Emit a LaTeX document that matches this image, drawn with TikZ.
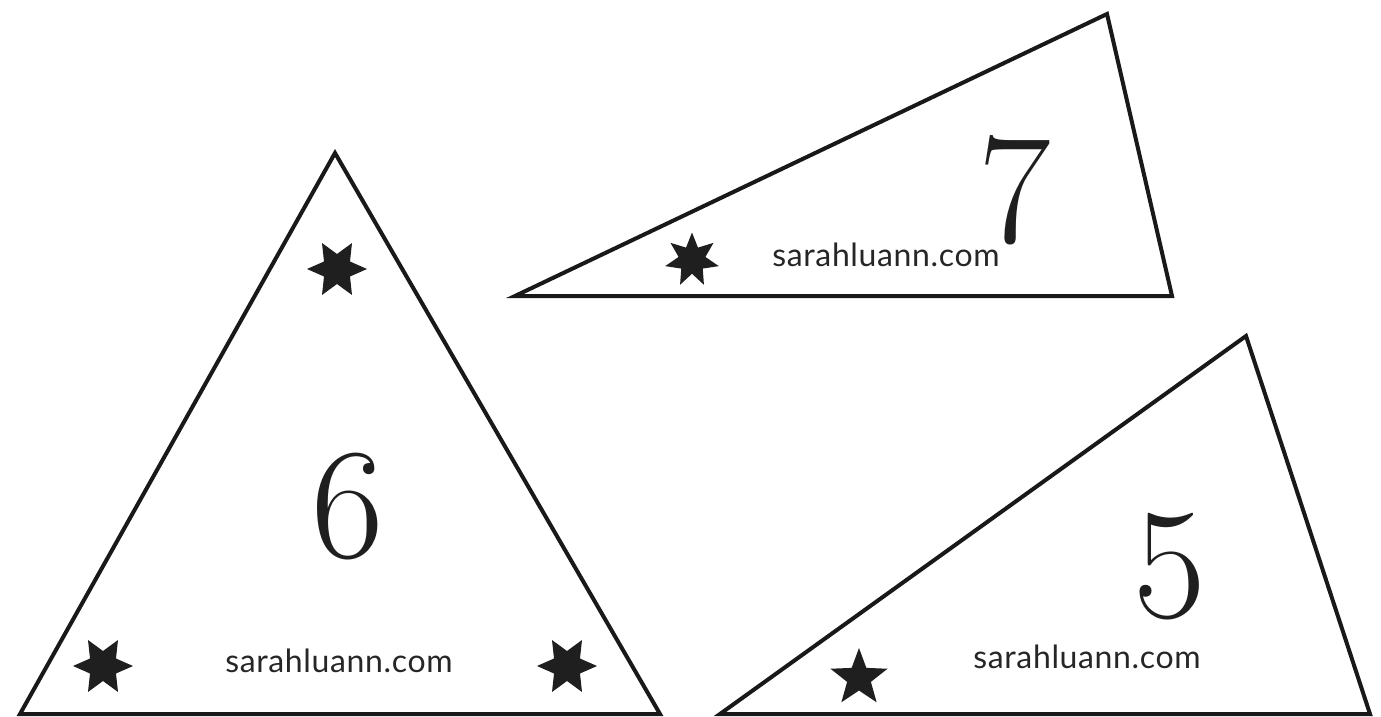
\documentclass[tikz,border=0pt]{standalone}
\usepackage{fontspec}
\newfontfamily\sitefont[LetterSpace=2]{Lato}
\usetikzlibrary{shapes.geometric}

\begin{document}
\begin{tikzpicture}[
    x=1pt, y=-1pt,
    tri/.style={draw=black!90, line width=4pt, line join=miter},
    starmark/.style={star, fill=black!88, draw=none, inner sep=0pt, minimum size=60pt, star point ratio=2},
    digit/.style={inner sep=0pt, text=black!88, font=\fontsize{158}{158}\selectfont},
    site/.style={inner sep=0pt, text=black!85, font=\sitefont\fontsize{32}{32}\selectfont}
]
    \useasboundingbox (0,0) rectangle (1381,717);

    % Triangle 6
    \draw[tri] (335,153) -- (660,714) -- (20,714) -- cycle;
    \node[starmark, star points=6, shape border rotate=30] (sixtop) at (337,269) {};
    \node[starmark, star points=6, shape border rotate=30] (sixleft) at (103,666) {};
    \node[starmark, star points=6, shape border rotate=30] (sixright) at (567,666) {};
    \node[digit] (six) at (348,507) {6};
    \node[site] (sixsite) at (339,661) {sarahluann.com};

    % Triangle 7
    \draw[tri] (515,296) -- (1107,14) -- (1172,296) -- cycle;
    \node[starmark, star points=7, minimum size=55pt] (sevenstar) at (692,260) {};
    \node[digit] (seven) at (1015,190) {7};
    \node[site] (sevensite) at (886,255) {sarahluann.com};

    % Triangle 5
    \draw[tri] (720,714) -- (1246,336) -- (1370,714) -- cycle;
    \node[starmark, star points=5, star point ratio=2.4] (fivestar) at (859,678) {};
    \node[digit] (five) at (1170,567) {5};
    \node[site] (fivesite) at (1087,657) {sarahluann.com};
\end{tikzpicture}
\end{document}
